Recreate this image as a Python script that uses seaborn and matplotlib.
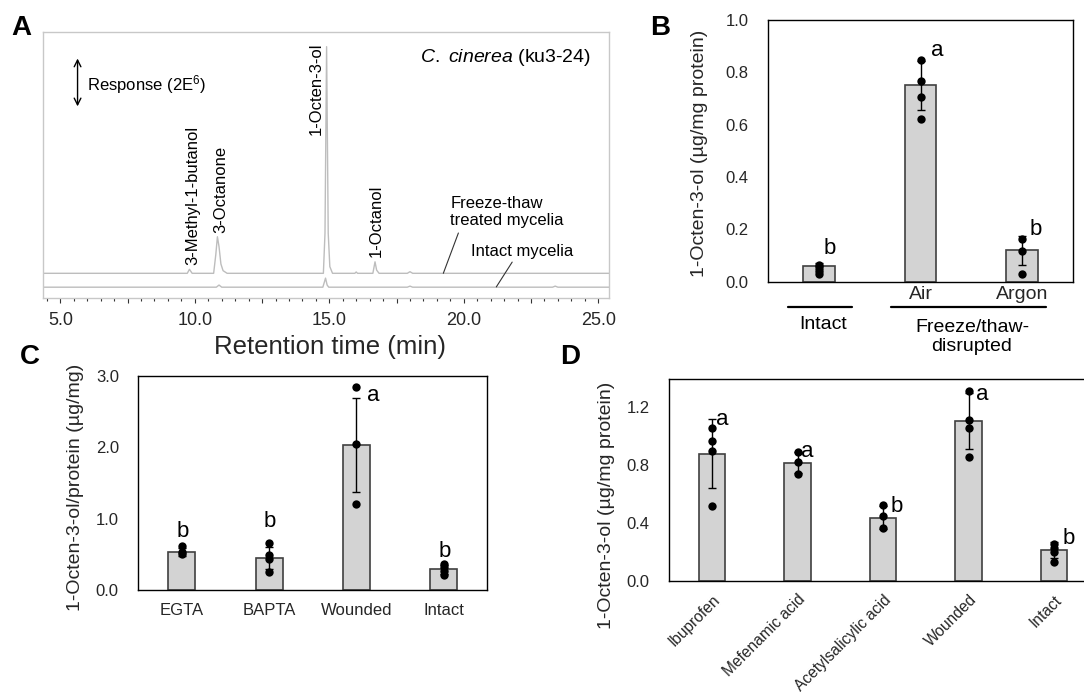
import numpy as np
import pandas as pd
import matplotlib
matplotlib.use("Agg")
import matplotlib.pyplot as plt
import matplotlib.transforms as mtrans
from matplotlib.ticker import FixedLocator, FuncFormatter, MultipleLocator
import seaborn as sns

# ---------------- DATA ----------------
# Panel A: chromatogram (retention time, min ; response, 1E6 counts)
ft_rt = [4.4, 9.72, 9.8, 9.9, 10.7, 10.78, 10.84, 10.9, 10.97, 11.05, 11.2,
         14.78, 14.84, 14.87, 14.9, 14.93, 14.96, 15.02, 15.12,
         15.95, 16.0, 16.05, 16.62, 16.7, 16.76, 16.85, 17.9, 18.0, 18.1, 25.4]
ft_resp = [0, 0, 0.15, 0, 0, 0.7, 1.37, 1.0, 0.35, 0.1, 0,
           0, 1.5, 5.0, 8.49, 5.0, 1.5, 0.25, 0,
           0, 0.05, 0, 0, 0.43, 0.12, 0, 0, 0.06, 0, 0]
in_rt = [4.4, 10.8, 10.9, 11.0, 14.76, 14.82, 14.86, 14.92, 14.98,
         17.9, 18.0, 18.1, 23.3, 23.4, 23.5, 25.4]
in_resp = [0, 0, 0.08, 0, 0, 0.2, 0.34, 0.08, 0,
           0, 0.04, 0, 0, 0.04, 0, 0]
peak_names = ["3-Methyl-1-butanol", "3-Octanone", "1-Octen-3-ol", "1-Octanol"]

# Panel B
b_cats = ["Intact", "Air", "Argon"]
b_ticklabels = ["", "Air", "Argon"]
b_mean = [0.06, 0.75, 0.12]
b_sd = [0.012, 0.095, 0.055]
b_pts_cat = ["Intact"] * 4 + ["Air"] * 4 + ["Argon"] * 3
b_pts_val = [0.065, 0.055, 0.04, 0.03, 0.847, 0.766, 0.704, 0.622, 0.162, 0.118, 0.029]
b_letters = ["b", "a", "b"]

# Panel C
c_cats = ["EGTA", "BAPTA", "Wounded", "Intact"]
c_mean = [0.537, 0.453, 2.03, 0.294]
c_sd = [0.05, 0.15, 0.66, 0.06]
c_pts_cat = ["EGTA"] * 3 + ["BAPTA"] * 4 + ["Wounded"] * 3 + ["Intact"] * 4
c_pts_val = [0.625, 0.541, 0.504, 0.658, 0.495, 0.439, 0.252,
             2.842, 2.044, 1.209, 0.369, 0.322, 0.271, 0.215]
c_letters = ["b", "b", "a", "b"]

# Panel D
d_cats = ["Ibuprofen", "Mefenamic acid", "Acetylsalicylic acid", "Wounded", "Intact"]
d_mean = [0.877, 0.815, 0.436, 1.101, 0.213]
d_sd = [0.24, 0.07, 0.078, 0.19, 0.055]
d_pts_cat = (["Ibuprofen"] * 4 + ["Mefenamic acid"] * 3 + ["Acetylsalicylic acid"] * 3
             + ["Wounded"] * 4 + ["Intact"] * 4)
d_pts_val = [1.056, 0.964, 0.893, 0.516, 0.886, 0.817, 0.739, 0.523, 0.445, 0.367,
             1.308, 1.108, 1.051, 0.853, 0.253, 0.225, 0.202, 0.129]
d_letters = ["a", "a", "b", "a", "b"]

# ---------------- STYLE ----------------
sns.set_style("white")
plt.rcParams['font.family'] = ['Liberation Sans', 'DejaVu Sans']
plt.rcParams['mathtext.fontset'] = 'custom'
plt.rcParams['mathtext.rm'] = 'Liberation Sans'
plt.rcParams['mathtext.it'] = 'Liberation Sans:italic'
plt.rcParams['text.color'] = 'black'

W, H = 1084, 692
fig = plt.figure(figsize=(W / 100, H / 100), dpi=100)
fig.patch.set_facecolor('white')


def rect(l, t, r, b):
    return [l / W, 1 - b / H, (r - l) / W, (b - t) / H]


BAR_FACE = '#d3d3d3'
BAR_EDGE = '#404040'


def bar_panel(ax, cats, mean, sd, pcat, pval, letters, letter_pos, ylim, yticks):
    sns.barplot(x=cats, y=mean, order=cats, color=BAR_FACE, errorbar=None, width=0.31,
                edgecolor=BAR_EDGE, linewidth=1.2, saturation=1, ax=ax, zorder=2)
    ax.errorbar(np.arange(len(cats)), mean, yerr=sd, fmt='none', ecolor='black',
                elinewidth=1, capsize=3, capthick=1, zorder=3)
    sns.stripplot(x=pcat, y=pval, order=cats, color='black', size=6, jitter=False,
                  linewidth=0, ax=ax, zorder=4)
    for (lx, ly), s in zip(letter_pos, letters):
        ax.text(lx, ly, s, fontsize=16, ha='center', va='center')
    ax.set_xlim(-0.5, len(cats) - 0.5)
    ax.set_ylim(*ylim)
    ax.set_yticks(yticks)
    ax.set_yticklabels([f"{v:.1f}" for v in yticks])
    for sp in ax.spines.values():
        sp.set_visible(True)
        sp.set_color('black')
        sp.set_linewidth(1.0)
    ax.tick_params(axis='both', length=0)
    ax.tick_params(axis='y', labelsize=12, pad=14)
    ax.set_xlabel('')


# ---------------- PANEL A ----------------
axA = fig.add_axes(rect(43.4, 32, 609, 298))
sns.lineplot(x=ft_rt, y=ft_resp, estimator=None, color='#bdbdbd', linewidth=1.0, ax=axA)
sns.lineplot(x=in_rt, y=np.array(in_resp) - 0.52, estimator=None, color='#bdbdbd',
             linewidth=1.0, ax=axA)
axA.set_xlim(4.37, 25.4)
axA.set_ylim(-0.925, 9.04)
axA.set_yticks([])
axA.xaxis.set_major_locator(FixedLocator(np.arange(5, 25.01, 2.5)))
axA.xaxis.set_major_formatter(FuncFormatter(
    lambda v, p: f"{v:.1f}" if abs(v / 5 - round(v / 5)) < 1e-6 else ''))
axA.xaxis.set_minor_locator(MultipleLocator(0.5))
axA.tick_params(axis='x', which='major', direction='out', length=3.8, width=0.8,
                color='#333333', labelsize=13, pad=6, bottom=True)
axA.tick_params(axis='x', which='minor', direction='out', length=2.2, width=0.8,
                color='#333333', bottom=True)
for sp in axA.spines.values():
    sp.set_visible(True)
    sp.set_color('#c8c8c8')
    sp.set_linewidth(1.0)
axA.set_xlabel("Retention time (min)", fontsize=18.5, va='center')
axA.xaxis.set_label_coords(0.507, -0.184)

peak_lab_pos = [(9.91, 0.31), (10.95, 1.51), (14.5, 5.18), (16.75, 0.61)]
for (px, py), name in zip(peak_lab_pos, peak_names):
    axA.text(px, py, name, rotation=90, ha='center', va='bottom', fontsize=12)

axA.annotate('', xy=(5.64, 8.15), xytext=(5.64, 6.15),
             arrowprops=dict(arrowstyle='<->', color='black', lw=1.0, mutation_scale=12))
axA.text(6.0, 7.06, "Response (2E$^{6}$)", fontsize=12, ha='left', va='center')
axA.text(24.74, 8.07, r"$\mathit{C.\ cinerea}$ (ku3-24)", fontsize=14, ha='right', va='center')
axA.text(19.5, 2.3, "Freeze-thaw\ntreated mycelia", fontsize=12, ha='left', va='center',
         linespacing=1.15)
axA.text(20.28, 0.8, "Intact mycelia", fontsize=12, ha='left', va='center')
axA.plot([19.8, 19.24], [1.51, 0.0], color='#333333', lw=0.8)
axA.plot([21.8, 21.21], [0.42, -0.51], color='#333333', lw=0.8)

# ---------------- PANEL B ----------------
axB = fig.add_axes(rect(768, 20, 1073, 281.7))
bar_panel(axB, b_cats, b_mean, b_sd, b_pts_cat, b_pts_val, b_letters,
          [(0.103, 0.128), (1.165, 0.885), (2.136, 0.198)],
          (0, 1.0), [0.0, 0.2, 0.4, 0.6, 0.8, 1.0])
axB.set_xticks(range(len(b_cats)))
axB.set_xticklabels(b_ticklabels)
axB.tick_params(axis='x', labelsize=14, pad=3)
axB.set_ylabel("1-Octen-3-ol (µg/mg protein)", fontsize=14, va='center')
axB.yaxis.set_label_coords(-0.223, 0.49)
trB = mtrans.blended_transform_factory(axB.transData, axB.transAxes)
axB.plot([-0.303, 0.326], [-0.095, -0.095], transform=trB, clip_on=False, color='black', lw=1.6)
axB.plot([0.71, 2.234], [-0.095, -0.095], transform=trB, clip_on=False, color='black', lw=1.6)
axB.text(0.041, -0.164, "Intact", transform=trB, ha='center', va='center', fontsize=14)
axB.text(1.507, -0.21, "Freeze/thaw-\ndisrupted", transform=trB, ha='center', va='center',
         fontsize=14, linespacing=1.15, multialignment='center')

# ---------------- PANEL C ----------------
axC = fig.add_axes(rect(138.3, 376, 487.3, 590.3))
bar_panel(axC, c_cats, c_mean, c_sd, c_pts_cat, c_pts_val, c_letters,
          [(0.012, 0.82), (1.01, 0.96), (2.19, 2.73), (3.015, 0.55)],
          (0, 3.0), [0.0, 1.0, 2.0, 3.0])
axC.tick_params(axis='x', labelsize=12, pad=9)
axC.set_ylabel("1-Octen-3-ol/protein (µg/mg)", fontsize=14, va='center')
axC.yaxis.set_label_coords(-0.181, 0.48)

# ---------------- PANEL D ----------------
axD = fig.add_axes(rect(669.3, 379, 1097, 581))
bar_panel(axD, d_cats, d_mean, d_sd, d_pts_cat, d_pts_val, d_letters,
          [(0.116, 1.108), (1.118, 0.89), (2.16, 0.511), (3.164, 1.28), (4.17, 0.294)],
          (0, 1.39), [0.0, 0.4, 0.8, 1.2])
axD.set_xticks(range(len(d_cats)))
axD.set_xticklabels(d_cats, rotation=45, ha='right', rotation_mode='anchor')
axD.tick_params(axis='x', labelsize=11.2, pad=8)
axD.set_ylabel("1-Octen-3-ol (µg/mg protein)", fontsize=14, va='center')
axD.yaxis.set_label_coords(-0.148, 0.372)

# ---------------- PANEL LETTERS ----------------
for lab, (x, y) in zip("ABCD", [(21.5, 28), (660, 28), (30, 357), (570, 357)]):
    fig.text(x / W, 1 - y / H, lab, fontsize=20, fontweight='bold', ha='center', va='center')

fig.savefig("out.png", dpi=100)
